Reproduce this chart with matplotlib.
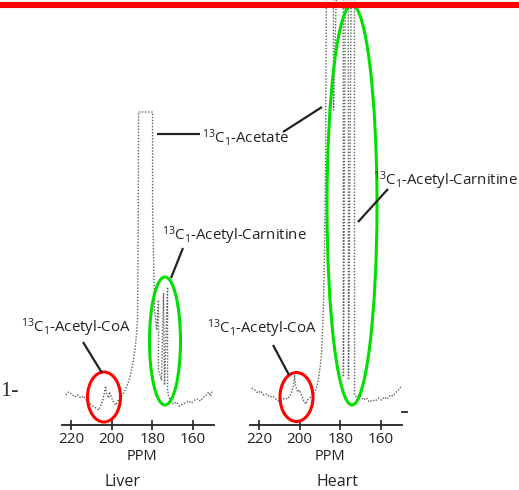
import matplotlib
matplotlib.use("Agg")
import matplotlib.pyplot as plt
from matplotlib.patches import Ellipse

plt.rcParams['font.family'] = ['Open Sans', 'DejaVu Sans']
plt.rcParams['mathtext.default'] = 'regular'

# ---- spectra: chemical shift (ppm) and signal height ----
liver_ppm = [222.7, 221.2, 219.7, 218.2, 216.8, 215.3, 213.8, 212.3, 210.8, 209.4,
             207.9, 206.4, 205.4, 204.4, 203.5, 203.0, 202.5, 201.5, 201.0, 200.0,
             199.0, 198.0, 197.0, 196.1, 195.1, 194.1, 193.1, 192.1, 191.1, 190.2,
             189.2, 188.2, 187.2, 186.9, 186.7, 179.8, 179.8, 179.3, 178.8, 177.8,
             176.9, 176.9, 175.4, 174.4, 173.9, 172.4, 172.4, 171.9, 170.9, 169.5,
             168.0, 166.5, 165.0, 163.6, 162.1, 160.6, 159.1, 157.6, 156.2, 154.7,
             153.2, 152.2, 151.2, 150.3]
liver_int = [30, 33, 31, 28, 30, 27, 29, 24, 22, 19,
             17, 15, 19, 25, 33, 39, 31, 27, 33, 27,
             23, 20, 24, 26, 29, 32, 36, 41, 47, 55,
             65, 80, 105, 200, 313, 313, 218, 165, 115, 95,
             125, 55, 45, 132, 40, 138, 35, 28, 25, 21,
             23, 19, 21, 22, 24, 22, 25, 26, 24, 28,
             30, 33, 29, 35]

heart_ppm = [223.6, 222.1, 220.7, 219.2, 217.7, 216.2, 214.8, 213.3, 211.8, 210.3,
             208.9, 207.4, 205.9, 204.9, 203.9, 203.0, 202.5, 202.0, 201.0, 200.0,
             199.0, 198.0, 197.0, 196.1, 195.1, 193.6, 192.1, 191.1, 190.2, 189.2,
             188.7, 188.2, 187.7, 187.2, 186.7, 183.4, 183.3, 181.3, 178.5, 178.4,
             177.4, 176.0, 175.9, 174.4, 173.0, 172.9, 171.5, 170.0, 168.5, 167.0,
             165.6, 164.1, 162.6, 161.1, 159.7, 158.2, 156.7, 155.2, 153.8, 152.3,
             150.8, 149.8]
heart_int = [37, 35, 32, 34, 30, 31, 28, 29, 26, 24,
             25, 27, 26, 29, 33, 40, 50, 39, 33, 35,
             29, 24, 21, 25, 27, 30, 35, 42, 53, 70,
             95, 125, 175, 275, 480, 480, 315, 480, 480, 48,
             480, 480, 45, 480, 480, 30, 27, 29, 25, 27,
             23, 25, 24, 27, 25, 28, 26, 30, 29, 33,
             36, 39]

tick_ppm = [220, 200, 180, 160]
panel_names = ["Liver", "Heart"]

W, H = 519, 490
fig = plt.figure(figsize=(W / 100, H / 100), dpi=100)

ppm_range = (224.5, 149.5)
axis_y = 425
panel_left = [62, 250]
panel_w = 152


def spectrum_axes(left, ppm, inten):
    ax = fig.add_axes([left / W, (H - axis_y) / H, panel_w / W, axis_y / H])
    ax.plot(ppm, inten, color='#606060', lw=1.0, ls=(0, (1, 1.2)),
            solid_capstyle='round')
    ax.set_xlim(*ppm_range)
    ax.set_ylim(0, axis_y)
    for s in ('top', 'left', 'right'):
        ax.spines[s].set_visible(False)
    ax.spines['bottom'].set_linewidth(1.3)
    ax.spines['bottom'].set_color('#222222')
    ax.set_yticks([])
    ax.set_xticks(tick_ppm)
    ax.set_xticklabels([str(t) for t in tick_ppm])
    ax.tick_params(axis='x', direction='inout', length=7, width=1.2,
                   colors='#222222', labelsize=11, pad=1.5)
    ax.patch.set_visible(False)
    return ax


spectrum_axes(panel_left[0], liver_ppm, liver_int)
spectrum_axes(panel_left[1], heart_ppm, heart_int)

# ---- overlay in pixel coordinates for labels and highlights ----
ov = fig.add_axes([0, 0, 1, 1], zorder=5)
ov.set_xlim(0, W)
ov.set_ylim(H, 0)
ov.axis('off')
ov.patch.set_visible(False)

txt = dict(color='#222222', fontsize=10.8, va='center')
acetate = r'$^{13}$C$_1$-Acetate'
carnitine = r'$^{13}$C$_1$-Acetyl-Carnitine'
coa = r'$^{13}$C$_1$-Acetyl-CoA'

ov.text(202, 137, acetate, ha='left', **txt)
ov.text(162, 236, carnitine, ha='left', **txt)
ov.text(373, 181, carnitine, ha='left', **txt)
ov.text(21, 328, coa, ha='left', **txt)
ov.text(207, 329, coa, ha='left', **txt)

lk = dict(color='#222222', lw=1.6, solid_capstyle='butt')
ov.plot([157, 200], [134, 134], **lk)
ov.plot([283, 322], [132, 107], **lk)
ov.plot([183, 171], [248, 278], **lk)
ov.plot([388, 358], [189, 222], **lk)
ov.plot([83, 102], [342, 373], **lk)
ov.plot([273, 289], [345, 375], **lk)
ov.plot([402, 407], [412, 412], color='#222222', lw=1.3)

ov.text(0, 391, '1-', fontsize=16, family='Liberation Serif',
        color='#333333', ha='left', va='center')

ov.text(142, 456, 'PPM', ha='center', va='center', fontsize=10.5, color='#222222')
ov.text(330, 456, 'PPM', ha='center', va='center', fontsize=10.5, color='#222222')
ov.text(123, 482, panel_names[0], ha='center', va='center', fontsize=11.5, color='#222222')
ov.text(337, 482, panel_names[1], ha='center', va='center', fontsize=11.5, color='#222222')

green = '#00e000'
red = '#ff0000'
ov.add_patch(Ellipse((165, 341), 31, 128, fill=False, ec=green, lw=2.2))
ov.add_patch(Ellipse((352, 205), 50, 400, fill=False, ec=green, lw=2.2))
ov.add_patch(Ellipse((104, 397), 33, 50, fill=False, ec=red, lw=2.2))
ov.add_patch(Ellipse((296.5, 397), 33, 49, fill=False, ec=red, lw=2.2))

ov.plot([0, W], [5.3, 5.3], color=red, lw=4.4, solid_capstyle='butt')

fig.savefig('out.png', dpi=100)
